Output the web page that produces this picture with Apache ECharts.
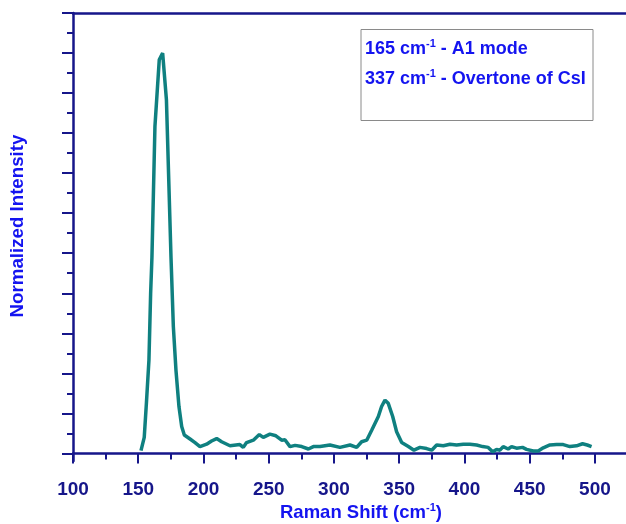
<!DOCTYPE html>
<html><head><meta charset="utf-8">
<script src="https://cdn.jsdelivr.net/npm/echarts@6/dist/echarts.min.js"></script>
<style>html,body{margin:0;padding:0;background:#fff}#c{width:626px;height:524px}</style>
</head><body><div id="c"></div>
<script>
const ramanShift = [152.1,154.6,156.4,158.2,159.5,160.5,162.8,166.1,168.7,171.6,175.1,176.9,178.9,181.2,183.3,185.3,189.7,193.5,197.3,202.4,206.2,210.1,213.9,220.3,227.9,230.5,233,238.2,242.8,245.8,250.9,255.5,259.9,262.4,266.3,270.2,275.3,280.4,284.2,289.3,296.9,304.6,312.3,317.4,321.2,325.1,328.9,334,336.5,339.1,341.6,345,348,351.9,357,361.3,365.9,371,374.9,378.7,383.8,388.9,394,399.1,404.2,409.3,413.9,418.2,421.6,424.6,427.2,429.7,433.5,436.1,439.9,444.5,447.6,452.7,456.5,460.4,465.5,470.6,475.7,480.8,485.9,490.5,494.1,497.4];
const intensity = [0.007,0.04,0.133,0.233,0.40,0.49,0.817,0.983,1.0,0.883,0.49,0.317,0.208,0.117,0.067,0.046,0.036,0.027,0.017,0.023,0.031,0.037,0.029,0.019,0.022,0.015,0.027,0.033,0.047,0.04,0.048,0.044,0.033,0.034,0.017,0.02,0.017,0.011,0.017,0.017,0.021,0.015,0.021,0.015,0.029,0.033,0.058,0.092,0.117,0.133,0.125,0.092,0.054,0.027,0.017,0.008,0.015,0.012,0.008,0.021,0.019,0.023,0.021,0.023,0.023,0.021,0.017,0.015,0.004,0.01,0.008,0.017,0.011,0.017,0.013,0.015,0.01,0.006,0.006,0.014,0.021,0.022,0.022,0.017,0.019,0.024,0.021,0.017];
const xMajorTicks = [100,150,200,250,300,350,400,450,500];
const xMinorTicks = [125,175,225,275,325,375,425,475];
const yMajorTicks = [0,0.1,0.2,0.3,0.4,0.5,0.6,0.7,0.8,0.9,1.0,1.1];
const yMinorTicks = [0.05,0.15,0.25,0.35,0.45,0.55,0.65,0.75,0.85,0.95,1.05];
const xTitle = ['Raman Shift (cm', '-1', ')'];
const yTitle = 'Normalized Intensity';
const notes = [['165 cm', '-1', ' - A1 mode'], ['337 cm', '-1', ' - Overtone of CsI']];

const navy = '#16168a';
const blue = '#1414f0';
const teal = '#0f8080';
const F = 'Liberation Sans, Arial, sans-serif';

const chart = echarts.init(document.getElementById('c'), null, {renderer: 'canvas'});
const baseX = {
  type: 'value', min: 100, max: 523.8, gridIndex: 0,
  splitLine: {show: false}
};
const baseY = {
  type: 'value', min: -0.019, max: 1.1, gridIndex: 0,
  splitLine: {show: false}
};
function richFor(size) {
  return {
    a: {fontFamily: F, fontWeight: 'bold', fontSize: size, fill: blue, lineHeight: 22},
    s: {fontFamily: F, fontWeight: 'bold', fontSize: 11, fill: blue, verticalAlign: 'top', lineHeight: 22}
  };
}
chart.setOption({
  animation: false,
  backgroundColor: '#fff',
  grid: {left: 73, right: 0, top: 13, bottom: 63, containLabel: false},
  xAxis: [
    Object.assign({}, baseX, {
      position: 'bottom',
      axisLine: {show: true, lineStyle: {color: navy, width: 2.5}},
      axisTick: {show: true, inside: false, length: 10, customValues: xMajorTicks, lineStyle: {color: navy, width: 2}},
      axisLabel: {show: true, customValues: xMajorTicks, margin: 19, color: navy, fontFamily: F, fontWeight: 'bold', fontSize: 19}
    }),
    Object.assign({}, baseX, {
      position: 'bottom',
      axisLine: {show: false},
      axisTick: {show: true, inside: false, length: 6, customValues: xMinorTicks, lineStyle: {color: navy, width: 2}},
      axisLabel: {show: false}
    }),
    Object.assign({}, baseX, {
      position: 'top',
      axisLine: {show: true, lineStyle: {color: navy, width: 2.5}},
      axisTick: {show: false},
      axisLabel: {show: false}
    })
  ],
  yAxis: [
    Object.assign({}, baseY, {
      position: 'left',
      axisLine: {show: true, lineStyle: {color: navy, width: 2.5}},
      axisTick: {show: true, inside: false, length: 11, customValues: yMajorTicks, lineStyle: {color: navy, width: 2}},
      axisLabel: {show: false}
    }),
    Object.assign({}, baseY, {
      position: 'left',
      axisLine: {show: false},
      axisTick: {show: true, inside: false, length: 6, customValues: yMinorTicks, lineStyle: {color: navy, width: 2}},
      axisLabel: {show: false}
    })
  ],
  series: [{
    type: 'line',
    xAxisIndex: 0, yAxisIndex: 0,
    data: ramanShift.map((x, i) => [x, intensity[i]]),
    showSymbol: false,
    smooth: false,
    lineStyle: {color: teal, width: 3.5},
    clip: false
  }],
  graphic: [
    {type: 'rect', shape: {x: 361, y: 29.5, width: 232, height: 91}, style: {fill: '#fff', stroke: '#8a8a8a', lineWidth: 1}},
    {type: 'text', x: 365, y: 49, style: {text: '{a|' + notes[0][0] + '}{s|' + notes[0][1] + '}{a|' + notes[0][2] + '}', rich: richFor(18), verticalAlign: 'middle', align: 'left'}},
    {type: 'text', x: 365, y: 79, style: {text: '{a|' + notes[1][0] + '}{s|' + notes[1][1] + '}{a|' + notes[1][2] + '}', rich: richFor(18), verticalAlign: 'middle', align: 'left'}},
    {type: 'text', x: 280, y: 513, style: {text: '{a|' + xTitle[0] + '}{s|' + xTitle[1] + '}{a|' + xTitle[2] + '}', rich: richFor(18.5), verticalAlign: 'middle', align: 'left'}},
    {type: 'text', x: 18, y: 226, rotation: Math.PI / 2, style: {text: yTitle, fill: blue, fontFamily: F, fontWeight: 'bold', fontSize: 18.7, align: 'center', verticalAlign: 'middle'}}
  ]
});
</script>
</body></html>
